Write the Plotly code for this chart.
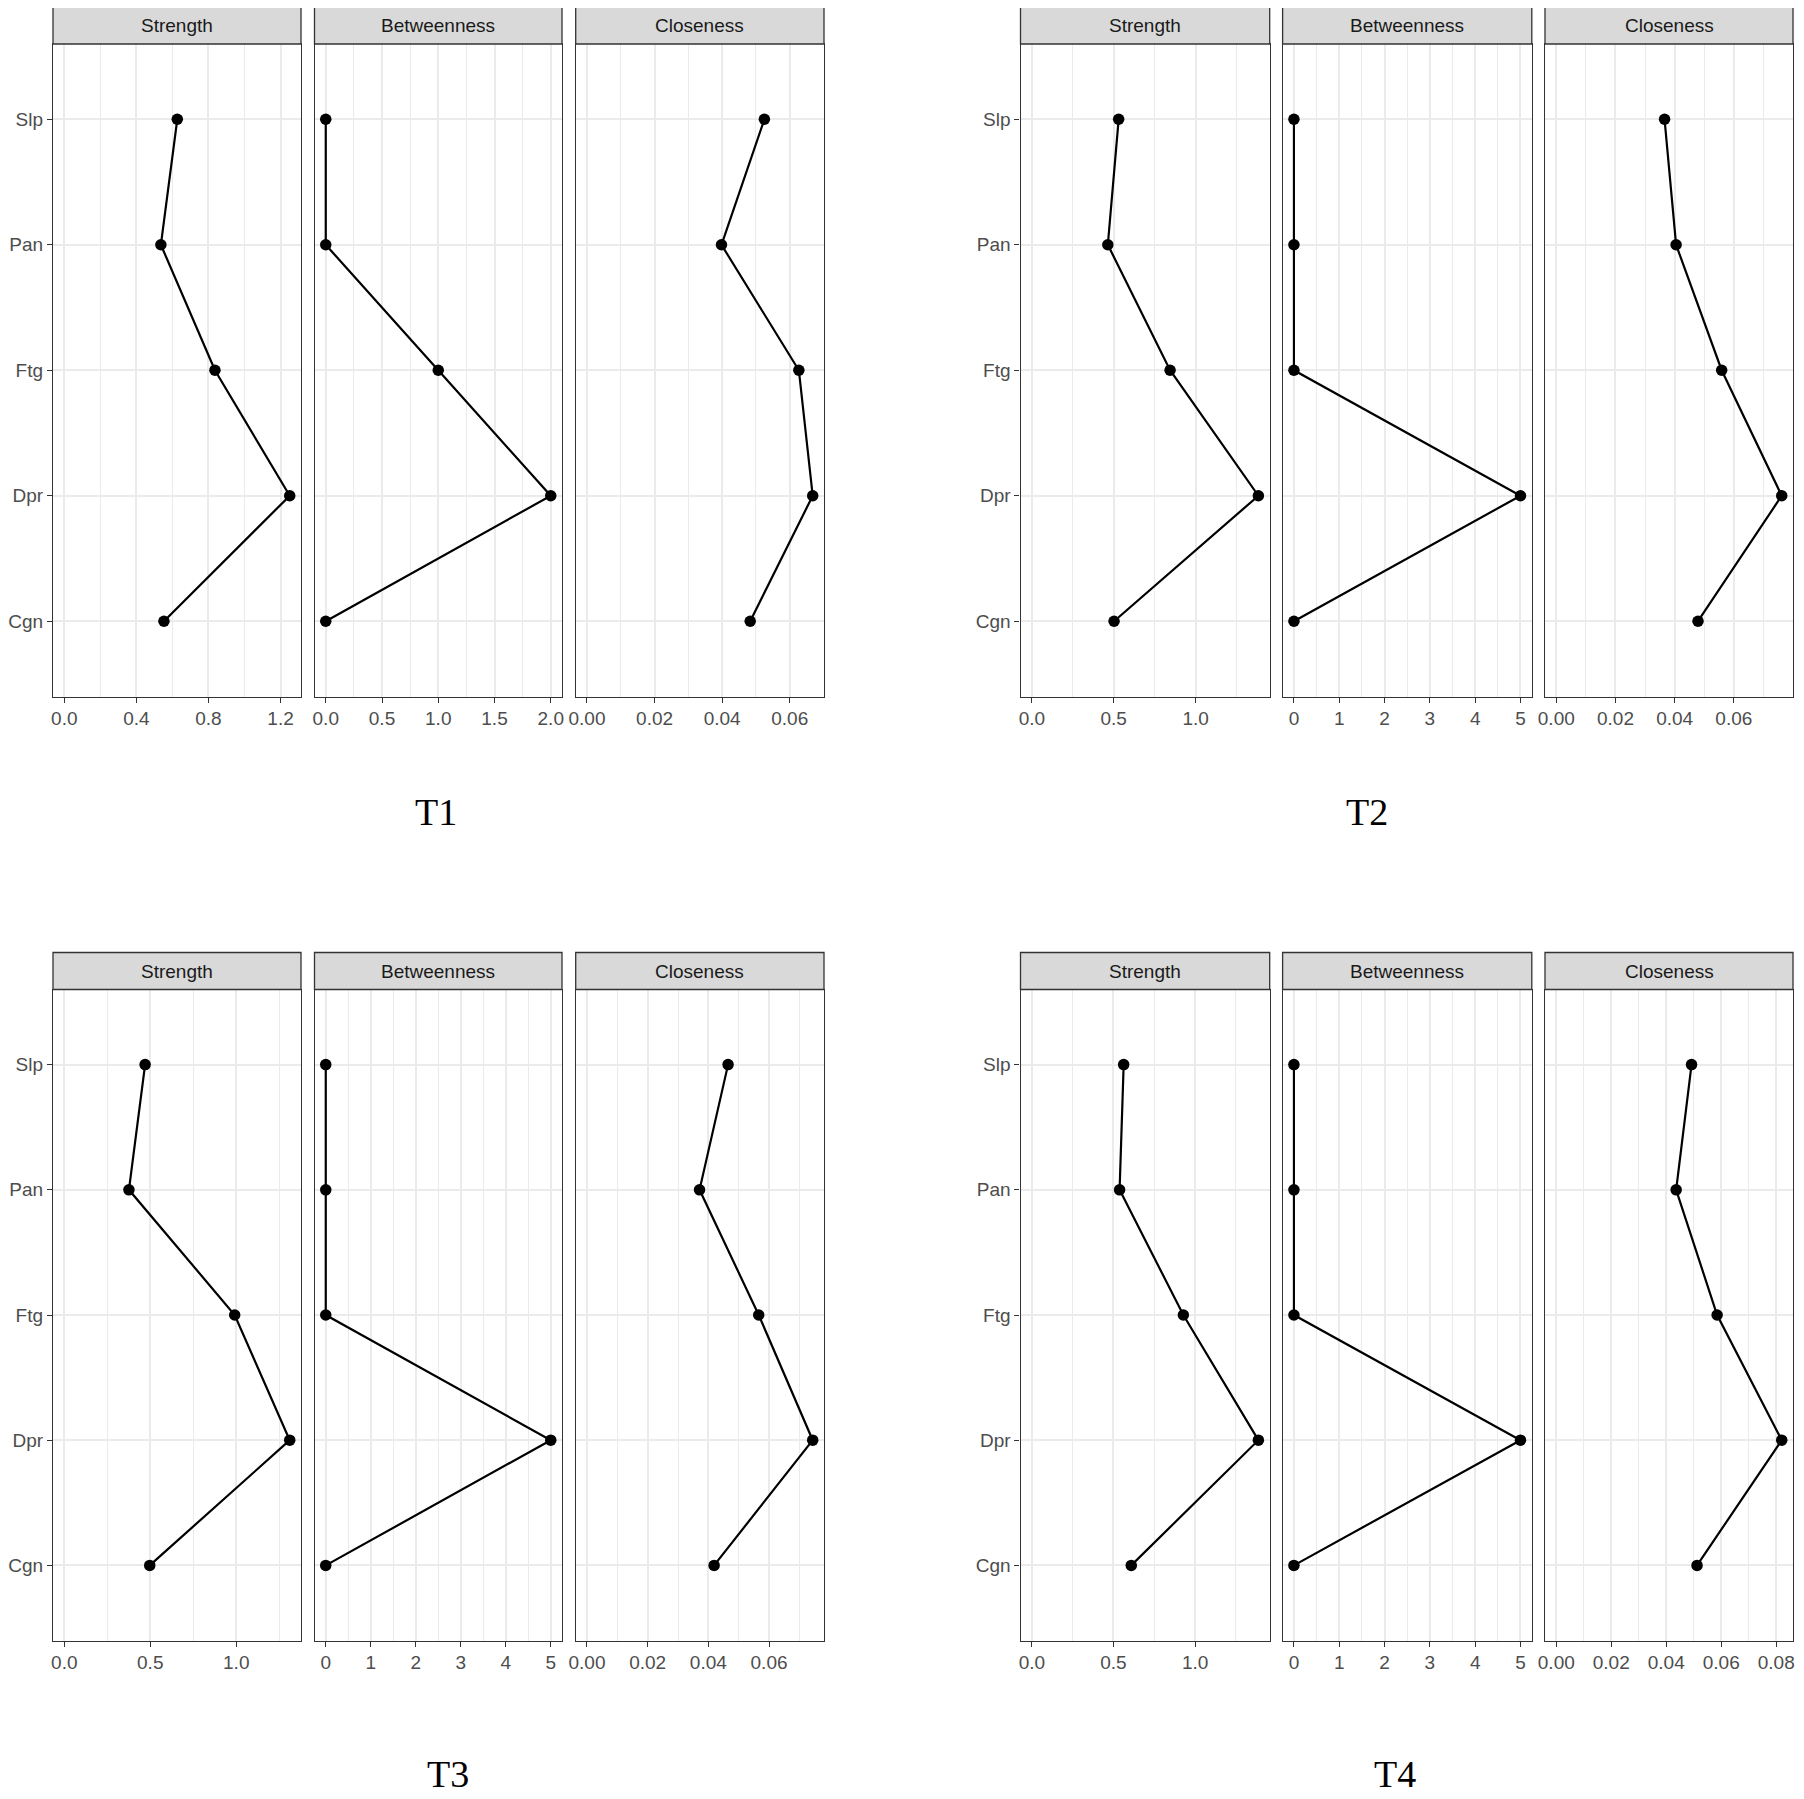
import plotly.graph_objects as go

# ---------------- data ----------------
NODES = ["Slp", "Pan", "Ftg", "Dpr", "Cgn"]
MEASURES = ["Strength", "Betweenness", "Closeness"]
PERIODS = ["T1", "T2", "T3", "T4"]

T1_STRENGTH = [0.627, 0.536, 0.836, 1.251, 0.553]
T1_BETWEENNESS = [0, 0, 1, 2, 0]
T1_CLOSENESS = [0.0525, 0.0398, 0.0627, 0.0668, 0.0483]

T2_STRENGTH = [0.530, 0.464, 0.844, 1.383, 0.502]
T2_BETWEENNESS = [0, 0, 0, 5, 0]
T2_CLOSENESS = [0.0366, 0.0405, 0.0559, 0.0762, 0.0479]

T3_STRENGTH = [0.470, 0.376, 0.991, 1.311, 0.497]
T3_BETWEENNESS = [0, 0, 0, 5, 0]
T3_CLOSENESS = [0.0465, 0.0371, 0.0566, 0.0744, 0.0419]

T4_STRENGTH = [0.5625, 0.5375, 0.928, 1.3875, 0.609]
T4_BETWEENNESS = [0, 0, 0, 5, 0]
T4_CLOSENESS = [0.0492, 0.0436, 0.0585, 0.0820, 0.0512]

# tick values / labels
TICKS_STRENGTH_T1 = [0.0, 0.4, 0.8, 1.2]
LABELS_STRENGTH_T1 = ["0.0", "0.4", "0.8", "1.2"]
TICKS_STRENGTH = [0.0, 0.5, 1.0]
LABELS_STRENGTH = ["0.0", "0.5", "1.0"]
TICKS_BETWEENNESS_T1 = [0.0, 0.5, 1.0, 1.5, 2.0]
LABELS_BETWEENNESS_T1 = ["0.0", "0.5", "1.0", "1.5", "2.0"]
TICKS_BETWEENNESS = [0, 1, 2, 3, 4, 5]
LABELS_BETWEENNESS = ["0", "1", "2", "3", "4", "5"]
TICKS_CLOSENESS = [0.00, 0.02, 0.04, 0.06]
LABELS_CLOSENESS = ["0.00", "0.02", "0.04", "0.06"]
TICKS_CLOSENESS_T4 = [0.00, 0.02, 0.04, 0.06, 0.08]
LABELS_CLOSENESS_T4 = ["0.00", "0.02", "0.04", "0.06", "0.08"]

SERIES = {
    "T1": [T1_STRENGTH, T1_BETWEENNESS, T1_CLOSENESS],
    "T2": [T2_STRENGTH, T2_BETWEENNESS, T2_CLOSENESS],
    "T3": [T3_STRENGTH, T3_BETWEENNESS, T3_CLOSENESS],
    "T4": [T4_STRENGTH, T4_BETWEENNESS, T4_CLOSENESS],
}
TICKS = {
    "T1": [(TICKS_STRENGTH_T1, LABELS_STRENGTH_T1), (TICKS_BETWEENNESS_T1, LABELS_BETWEENNESS_T1), (TICKS_CLOSENESS, LABELS_CLOSENESS)],
    "T2": [(TICKS_STRENGTH, LABELS_STRENGTH), (TICKS_BETWEENNESS, LABELS_BETWEENNESS), (TICKS_CLOSENESS, LABELS_CLOSENESS)],
    "T3": [(TICKS_STRENGTH, LABELS_STRENGTH), (TICKS_BETWEENNESS, LABELS_BETWEENNESS), (TICKS_CLOSENESS, LABELS_CLOSENESS)],
    "T4": [(TICKS_STRENGTH, LABELS_STRENGTH), (TICKS_BETWEENNESS, LABELS_BETWEENNESS), (TICKS_CLOSENESS_T4, LABELS_CLOSENESS_T4)],
}

# ---------------- layout geometry (page pixels) ----------------
PAGE_OFF = 8  # default body margin of the html page
W, H = 1804 - PAGE_OFF, 1799 - PAGE_OFF
COLS = {
    0: [(53, 301), (314.5, 562), (575.7, 824)],
    1: [(1020.5, 1269.7), (1282.6, 1531.8), (1545, 1793)],
}
ROWS = {0: (44, 696.5), 1: (989.5, 1640.5)}
STRIP_H = 37
TITLE_POS = {"T1": (436, 812), "T2": (1367, 812), "T3": (448, 1774), "T4": (1395, 1774)}

GRID = "#EBEBEB"
BORDER = "#333333"
TICKTXT = "#4D4D4D"
FONT = "Liberation Sans, Arial, sans-serif"


def fx(px):
    return (px - PAGE_OFF) / W


def fy(py):
    return 1 - (py - PAGE_OFF) / H


fig = go.Figure()
layout = {}
shapes = []
annotations = []

k = 0
for gi, period in enumerate(PERIODS):
    col = gi % 2
    row = gi // 2
    y0p, y1p = ROWS[row]
    panel_h = y1p - y0p
    for mi, measure in enumerate(MEASURES):
        k += 1
        vals = SERIES[period][mi]
        tv, tt = TICKS[period][mi]
        lo = min(0, min(vals))
        hi = max(vals)
        pad = 0.05 * (hi - lo)
        rng = [lo - pad, hi + pad]
        step = tv[1] - tv[0]
        minor_vals = [tv[0] - step / 2] + [v + step / 2 for v in tv]
        minor_vals = [v for v in minor_vals if rng[0] <= v <= rng[1]]

        x0p, x1p = COLS[col][mi]
        xname = "xaxis" if k == 1 else f"xaxis{k}"
        yname = "yaxis" if k == 1 else f"yaxis{k}"
        xref = "x" if k == 1 else f"x{k}"
        yref = "y" if k == 1 else f"y{k}"

        layout[xname] = dict(
            domain=[fx(x0p), fx(x1p)],
            anchor=yref,
            automargin=False,
            range=rng,
            tickmode="array",
            tickvals=tv,
            ticktext=tt,
            ticks="outside",
            ticklen=5,
            tickwidth=1.3,
            tickcolor=BORDER,
            tickfont=dict(family=FONT, size=19, color=TICKTXT),
            showgrid=True,
            gridcolor=GRID,
            gridwidth=2,
            minor=dict(tickmode="array", tickvals=minor_vals, showgrid=True,
                       gridcolor=GRID, gridwidth=1, ticks=""),
            zeroline=False,
            showline=True,
            mirror=True,
            linecolor=BORDER,
            linewidth=1.3,
        )
        layout[yname] = dict(
            domain=[fy(y1p), fy(y0p)],
            anchor=xref,
            automargin=False,
            type="category",
            categoryorder="array",
            categoryarray=NODES[::-1],
            range=[-0.6, len(NODES) - 1 + 0.6],
            showgrid=True,
            gridcolor=GRID,
            gridwidth=2,
            zeroline=False,
            showline=True,
            mirror=True,
            linecolor=BORDER,
            linewidth=1.3,
            ticks="outside" if mi == 0 else "",
            ticklen=5,
            tickwidth=1.3,
            tickcolor=BORDER,
            showticklabels=(mi == 0),
            tickfont=dict(family=FONT, size=19, color=TICKTXT),
        )

        fig.add_trace(go.Scatter(
            x=vals, y=NODES, mode="lines+markers",
            xaxis=xref, yaxis=yref,
            line=dict(color="black", width=2.2),
            marker=dict(color="black", size=11.5),
            showlegend=False,
            hoverinfo="x+y",
        ))

        sh = STRIP_H / panel_h
        shapes.append(dict(
            type="rect", xref=f"{xref} domain", yref=f"{yref} domain",
            x0=0, x1=1, y0=1, y1=1 + sh,
            fillcolor="#D9D9D9", line=dict(color=BORDER, width=1.3), layer="above",
        ))
        annotations.append(dict(
            xref=f"{xref} domain", yref=f"{yref} domain",
            x=0.5, y=1 + sh / 2, text=measure, showarrow=False,
            xanchor="center", yanchor="middle",
            font=dict(family=FONT, size=19, color="#1A1A1A"),
        ))

for period in PERIODS:
    px, py = TITLE_POS[period]
    annotations.append(dict(
        xref="paper", yref="paper", x=fx(px), y=fy(py),
        text=period, showarrow=False, xanchor="center", yanchor="middle",
        font=dict(family="Liberation Serif, Times New Roman, serif", size=38, color="black"),
    ))

fig.update_layout(
    width=W, height=H,
    margin=dict(l=0, r=0, t=0, b=0, autoexpand=False),
    paper_bgcolor="white",
    plot_bgcolor="white",
    showlegend=False,
    shapes=shapes,
    annotations=annotations,
    **layout,
)

fig.write_html("out.html")
